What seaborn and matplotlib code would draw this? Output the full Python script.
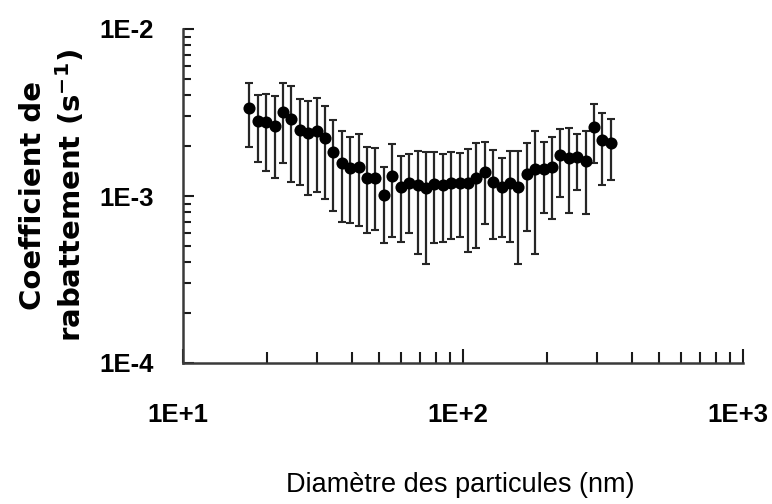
import numpy as np
import pandas as pd
import matplotlib
matplotlib.use("Agg")
import matplotlib.pyplot as plt
import matplotlib.transforms as mtransforms
import seaborn as sns
from matplotlib.ticker import LogLocator, NullFormatter

# Particle diameter (nm) and deposition coefficient (10^-3 s^-1) with its standard deviation
diam_nm = [17.25, 18.49, 19.81, 21.23, 22.75, 24.38, 26.12, 27.99, 30.00, 32.15,
           34.45, 36.91, 39.56, 42.39, 45.43, 48.68, 52.16, 55.90, 59.90, 64.19,
           68.79, 73.71, 78.99, 84.65, 90.71, 97.20, 104.2, 111.6, 119.6, 128.2,
           137.4, 147.2, 157.7, 169.0, 181.1, 194.1, 208.0, 222.9, 238.8, 255.9,
           274.3, 293.9, 314.9, 337.5]
coef_e3 = [3.35, 2.82, 2.76, 2.63, 3.17, 2.88, 2.49, 2.37, 2.45, 2.22,
           1.83, 1.58, 1.47, 1.50, 1.28, 1.29, 1.01, 1.31, 1.13, 1.19,
           1.16, 1.11, 1.18, 1.16, 1.19, 1.19, 1.19, 1.29, 1.40, 1.22,
           1.13, 1.19, 1.13, 1.35, 1.45, 1.45, 1.50, 1.76, 1.68, 1.72,
           1.61, 2.58, 2.16, 2.07]
std_e3 = [1.39, 1.23, 1.34, 1.34, 1.59, 1.66, 1.33, 1.35, 1.39, 1.26,
          1.02, 0.88, 0.78, 0.84, 0.68, 0.66, 0.49, 0.74, 0.60, 0.59,
          0.71, 0.72, 0.66, 0.63, 0.64, 0.62, 0.73, 0.80, 0.72, 0.67,
          0.56, 0.66, 0.74, 0.73, 1.00, 0.66, 0.77, 0.77, 0.89, 0.64,
          0.83, 1.00, 0.99, 0.83]

x_ticks = [10, 100, 1000]
x_ticklabels = ["1E+1", "1E+2", "1E+3"]
y_ticks = [1e-4, 1e-3, 1e-2]
y_ticklabels = ["1E-4", "1E-3", "1E-2"]

df = pd.DataFrame({
    "diam": diam_nm,
    "k": np.array(coef_e3) * 1e-3,
    "sd": np.array(std_e3) * 1e-3,
})

sns.set_theme(style="white")
plt.rcParams["font.family"] = ["DejaVu Sans"]
narrow = ["Liberation Sans Narrow", "Liberation Sans", "DejaVu Sans"]

fig = plt.figure(figsize=(7.72, 5.04), dpi=100)
ax = fig.add_axes([183 / 772, 1 - 363 / 504, 560 / 772, 334 / 504])

ax.errorbar(df["diam"], df["k"], yerr=df["sd"], fmt="none",
            ecolor="#262626", elinewidth=1.6, capsize=2.6, capthick=1.5,
            zorder=2)
sns.scatterplot(data=df, x="diam", y="k", ax=ax, color="black", s=76,
                edgecolor="black", linewidth=0, zorder=3, legend=False)

ax.set_xscale("log")
ax.set_yscale("log")
ax.set_xlim(10, 1000)
ax.set_ylim(1e-4, 1e-2)

for side in ("top", "right"):
    ax.spines[side].set_visible(False)
for side in ("left", "bottom"):
    ax.spines[side].set_color("#3a3a3a")
    ax.spines[side].set_linewidth(1.8)

tick_font = dict(family=narrow, weight="bold", size=18.5)
ax.set_xticks(x_ticks)
ax.set_xticklabels(x_ticklabels, fontdict=tick_font)
ax.set_yticks(y_ticks)
ax.set_yticklabels(y_ticklabels, fontdict=tick_font)
ax.xaxis.set_minor_locator(LogLocator(base=10, subs=np.arange(2, 10)))
ax.yaxis.set_minor_locator(LogLocator(base=10, subs=np.arange(2, 10)))
ax.xaxis.set_minor_formatter(NullFormatter())
ax.yaxis.set_minor_formatter(NullFormatter())

ax.tick_params(axis="x", which="both", bottom=True, top=False)
ax.tick_params(axis="y", which="both", left=True, right=False)
ax.tick_params(axis="x", which="major", direction="in", length=10, width=1.5,
               color="#1a1a1a", pad=29, labelcolor="black")
ax.tick_params(axis="x", which="minor", direction="in", length=8, width=1.5,
               color="#1a1a1a")
ax.tick_params(axis="y", which="major", direction="in", length=8, width=1.5,
               color="#1a1a1a", pad=21, labelcolor="black")
ax.tick_params(axis="y", which="minor", direction="in", length=6, width=1.5,
               color="#1a1a1a")

ax.set_xlabel("Diamètre des particules (nm)", family=narrow,
              size=19.5, color="black", va="center")
ax.xaxis.set_label_coords(0.495, -0.365)

ax.set_ylabel("Coefficient de\nrabattement " + r"$\mathregular{(s^{-1})}$",
              family="DejaVu Sans", weight="bold", size=21, color="black",
              linespacing=1.25, va="center")
ax.yaxis.set_label_coords(-0.232, 0.5)

# nudge the x tick labels slightly left so the last one stays inside the figure
fig.canvas.draw()
shift = mtransforms.ScaledTranslation(-5 / 100, 0, fig.dpi_scale_trans)
for lbl in ax.get_xticklabels():
    lbl.set_transform(lbl.get_transform() + shift)

fig.savefig("out.png", dpi=100, facecolor="white")
